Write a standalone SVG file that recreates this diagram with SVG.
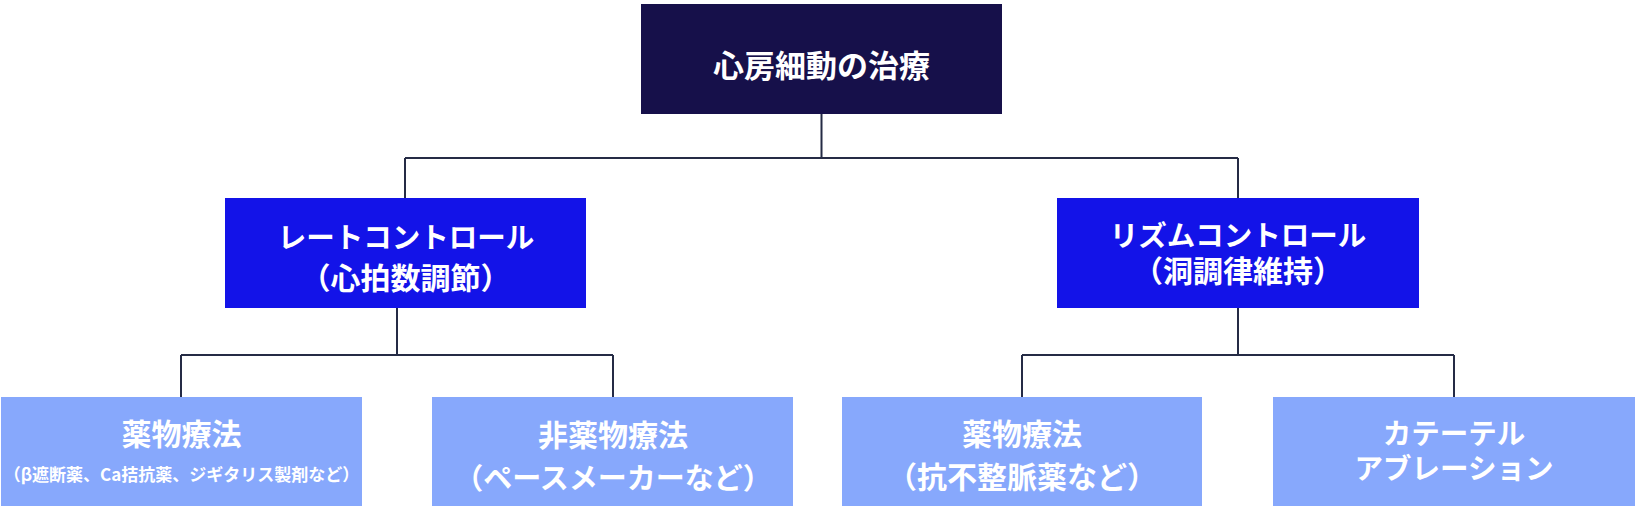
<svg xmlns="http://www.w3.org/2000/svg" width="1637" height="512" viewBox="0 0 1637 512">
<style>
.root{fill:#16104a}
.mid{fill:#1313e8}
.leaf{fill:#87a8fc}
.t{font-family:"Noto Sans CJK JP","Noto Sans",sans-serif;font-weight:700;fill:#ffffff;text-anchor:middle;dominant-baseline:central;font-size:30px}
.k{font-size:28.5px}
.s{font-size:17px}
.c{fill:none;stroke:#252b45;stroke-width:2}
</style>
<rect width="1637" height="512" fill="#ffffff"/>
<g id="connectors">
<path class="c" d="M821.5 114 V158 M405 158 H1238 M405 158 V198 M1238 158 V198"/>
<path class="c" d="M397 308 V355 M181 355 H613 M181 355 V397 M613 355 V397"/>
<path class="c" d="M1238 308 V355 M1022 355 H1454 M1022 355 V397 M1454 355 V397"/>
</g>
<g id="root">
<rect class="root" x="641" y="4" width="361" height="110"/>
<text class="t" x="821.5" y="63" style="font-size:31px">心房細動の治療</text>
</g>
<g id="rate">
<rect class="mid" x="225" y="198" width="361" height="110"/>
<text class="t k" x="406" y="235.5">レートコントロール</text>
<text class="t" x="405.5" y="276">（心拍数調節）</text>
</g>
<g id="rhythm">
<rect class="mid" x="1057" y="198" width="362" height="110"/>
<text class="t k" x="1238" y="233.5">リズムコントロール</text>
<text class="t" x="1238" y="268.5">（洞調律維持）</text>
</g>
<g id="drug1">
<rect class="leaf" x="1" y="397" width="361" height="109"/>
<text class="t" x="181.5" y="431.5">薬物療法</text>
<text class="t s" x="181.5" y="473">（β遮断薬、Ca拮抗薬、ジギタリス製剤など）</text>
</g>
<g id="nondrug">
<rect class="leaf" x="432" y="397" width="361" height="109"/>
<text class="t" x="613" y="432.5">非薬物療法</text>
<text class="t" x="613" y="476" style="font-size:29px">（ペースメーカーなど）</text>
</g>
<g id="drug2">
<rect class="leaf" x="842" y="397" width="360" height="109"/>
<text class="t" x="1022" y="431.5">薬物療法</text>
<text class="t" x="1022" y="475">（抗不整脈薬など）</text>
</g>
<g id="ablation">
<rect class="leaf" x="1273" y="397" width="362" height="109"/>
<text class="t k" x="1454" y="431">カテーテル</text>
<text class="t k" x="1454" y="466.5">アブレーション</text>
</g>
</svg>
